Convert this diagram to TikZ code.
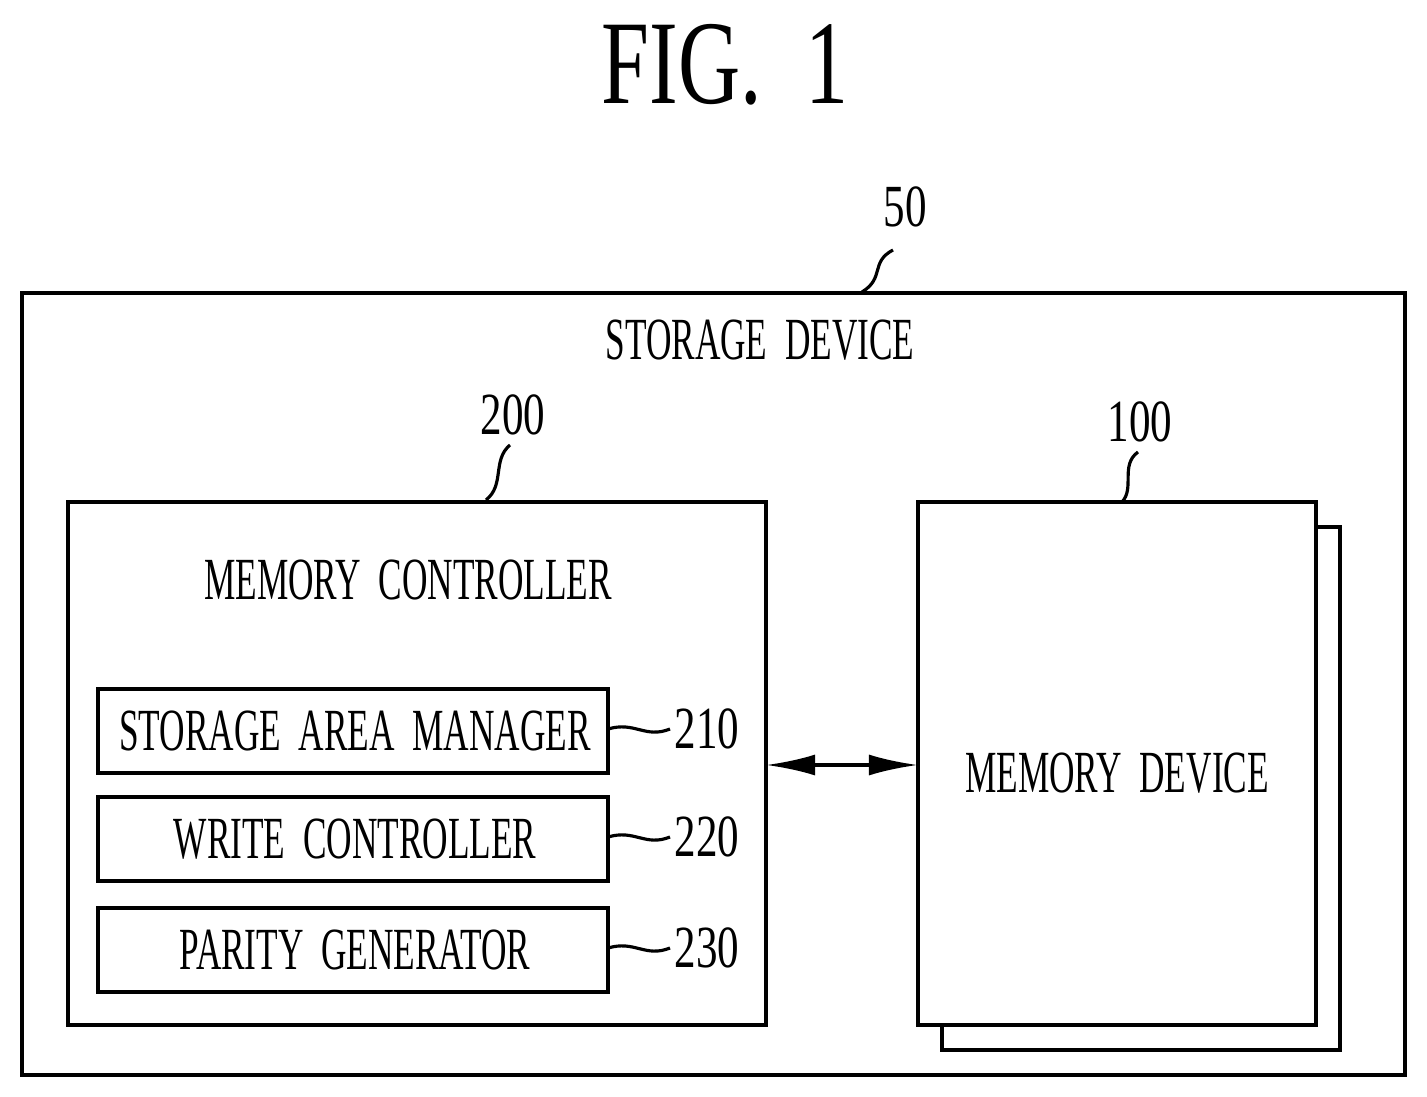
\documentclass[tikz,border=0pt]{standalone}
\usepackage{fontspec}
\setmainfont{Liberation Serif}
\usetikzlibrary{arrows.meta}
\begin{document}
\begin{tikzpicture}[x=0.01cm,y=-0.01cm]
	\tikzset{>={Latex[length=14pt,width=6pt]},
		box/.style={draw,line width=1.2pt},
		lbl/.style={font=\fontsize{17}{20}\selectfont,xscale=0.59,transform shape,inner sep=0pt},
		num/.style={font=\fontsize{17}{20}\selectfont,xscale=0.72,transform shape,inner sep=0pt},
		lead/.style={line width=0.9pt}}
	\useasboundingbox (0,0) rectangle (1427,1097);
	\node[font=\fontsize{34}{36}\selectfont,xscale=0.72,transform shape,inner sep=0pt] (title) at (725,65) {FIG.\ \ 1};
	
	% storage device
	\draw[box] (22,293) rectangle (1405,1075);
	\node[lbl] (sd) at (760,340) {STORAGE\ \ DEVICE};
	\node[num] (n50) at (905,207) {50};
	\draw[lead] (893,250) .. controls (870,262) and (885,278) .. (862,292);
	
	% memory controller
	\draw[box] (68,502) rectangle (766,1025);
	\node[lbl] (mc) at (408,580) {MEMORY\ \ CONTROLLER};
	\node[num] (n200) at (513,415) {200};
	\draw[lead] (510,445) .. controls (492,460) and (505,485) .. (486,500);
	\foreach \y/\t/\n in {731/STORAGE\ \ AREA\ \ MANAGER/210, 839/WRITE\ \ CONTROLLER/220, 950/PARITY\ \ GENERATOR/230}{
		\draw[box] (98,\y-42) rectangle (608,\y+42);
		\node[lbl] at (355,\y) {\t};
		\node[num] at (707,\y-2) {\n};
		\draw[lead] (608,\y-2) .. controls (635,\y-10) and (645,\y+8) .. (670,\y-2);
	}
	
	% memory device
	\draw[box,fill=white] (942,527) rectangle (1340,1050);
	\draw[box,fill=white] (918,502) rectangle (1316,1025);
	\node[lbl] (md) at (1117,773) {MEMORY\ \ DEVICE};
	\node[num] (n100) at (1140,422) {100};
	\draw[lead] (1138,452) .. controls (1120,465) and (1135,488) .. (1122,502);
	
	\coordinate (L) at (766,765);
	\coordinate (R) at (918,765);
	\draw[<->,line width=1pt] (L) -- (R);
\end{tikzpicture}
\end{document}
